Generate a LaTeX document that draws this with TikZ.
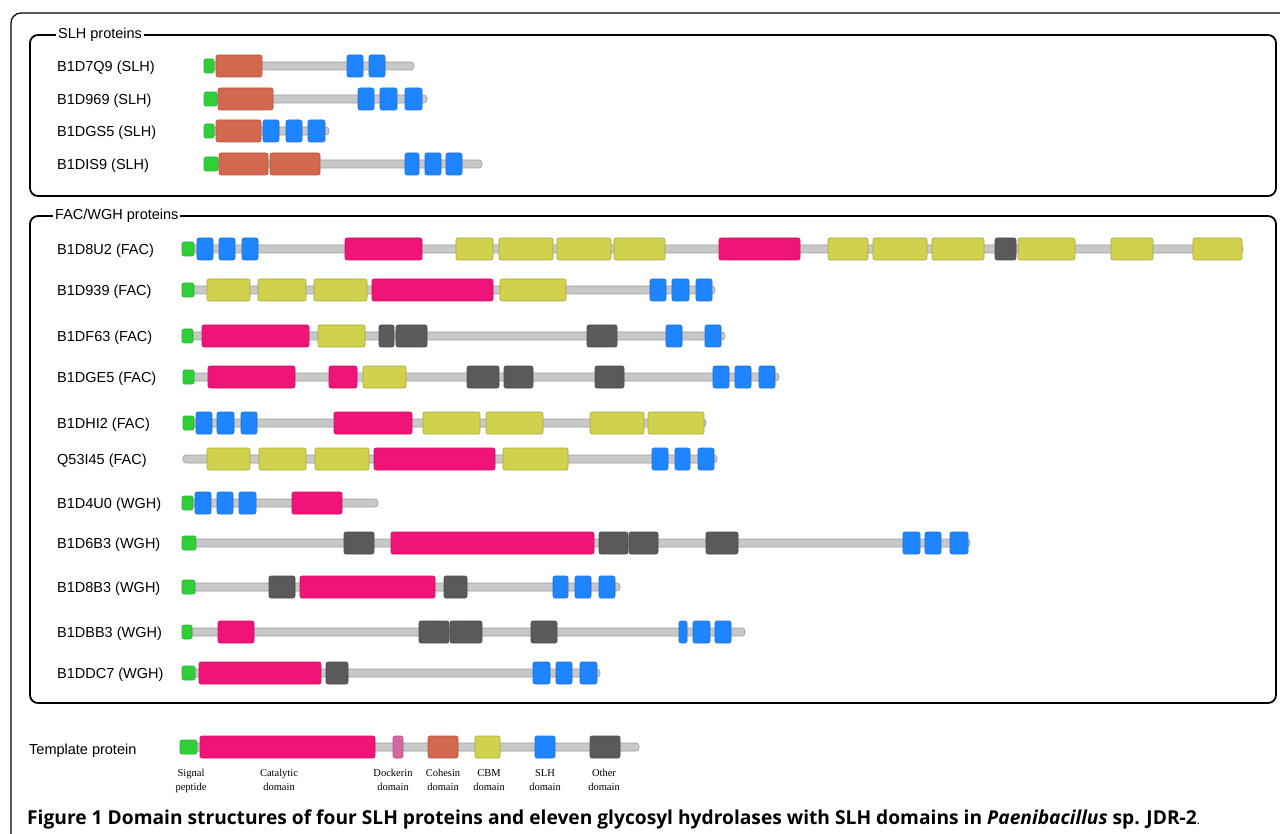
\documentclass[tikz,border=0pt]{standalone}
\usepackage{fontspec}
\setmainfont{Liberation Sans}
\newfontfamily\legfont{Liberation Serif}
\newfontfamily\capfont{Open Sans}
\definecolor{CatalPink}{HTML}{F01478}
\definecolor{CohesOrange}{HTML}{D2684E}
\definecolor{CbmYellow}{HTML}{D0D24E}
\definecolor{SlhBlue}{HTML}{1F85FF}
\definecolor{OtherGray}{HTML}{5B595B}
\definecolor{SignalGreen}{HTML}{30CF3A}
\definecolor{DockPink}{HTML}{D466A0}
\definecolor{BackGray}{HTML}{C8C8C8}
\tikzset{
  % domain styles
  dom/.style={rounded corners=2pt, line width=0.6pt},
  catal/.style={dom, fill=CatalPink, draw=CatalPink!85!black},
  cohes/.style={dom, fill=CohesOrange, draw=CohesOrange!85!black},
  cbm/.style={dom, fill=CbmYellow, draw=CbmYellow!80!black},
  slh/.style={dom, fill=SlhBlue, draw=SlhBlue!85!black},
  other/.style={dom, fill=OtherGray, draw=OtherGray!85!black},
  dock/.style={dom, fill=DockPink, draw=DockPink!85!black},
  signal/.style={dom, fill=SignalGreen, draw=SignalGreen!85!black},
  backbone/.style={rounded corners=3pt, fill=BackGray, draw=BackGray!80!black, line width=0.6pt},
  % frames and texts
  groupframe/.style={draw=black, line width=1.8pt, rounded corners=8pt},
  grouptitle/.style={fill=white, inner xsep=2pt, inner ysep=1pt, anchor=west, font=\fontsize{14.5}{17}\selectfont},
  protlabel/.style={anchor=west, inner sep=0pt, yshift=-1.5pt, font=\fontsize{14.5}{17}\selectfont},
  leglabel/.style={anchor=north, align=center, inner sep=0pt, font=\legfont\fontsize{10.5}{14}\selectfont},
  captext/.style={anchor=west, inner sep=0pt, font=\capfont\bfseries\fontsize{19.2}{21}\selectfont}
}
% row helpers: #1 = row y
\newcommand{\chain}[3]{\draw[backbone] (#2,{#1-4}) rectangle (#3,{#1+4});}
\newcommand{\sig}[3]{\draw[signal] (#2,{#1-7}) rectangle (#3,{#1+7});}
\newcommand{\dm}[4]{\draw[#1] (#3,{#2-11}) rectangle (#4,{#2+11});}

\begin{document}
\begin{tikzpicture}[x=1pt, y=-1pt]
  \useasboundingbox (0,0) rectangle (1280,834);
  \fill[white] (0,0) rectangle (1280,834);

  % outer frame
  \draw[line width=1.2pt, rounded corners=10pt] (11,840) -- (11,13) -- (1290,13);

  % group frames
  \draw[groupframe] (30,35) rectangle (1276,196);
  \node[grouptitle] (slhtitle) at (56,35) {SLH proteins};
  \draw[groupframe] (30,216) rectangle (1276,703);
  \node[grouptitle] (factitle) at (53,216) {FAC/WGH proteins};

  % protein labels
  \foreach \nm/\yy in {B1D7Q9 (SLH)/66, B1D969 (SLH)/99, B1DGS5 (SLH)/131, B1DIS9 (SLH)/164,
      B1D8U2 (FAC)/249, B1D939 (FAC)/290, B1DF63 (FAC)/336, B1DGE5 (FAC)/377,
      B1DHI2 (FAC)/423, Q53I45 (FAC)/459, B1D4U0 (WGH)/503, B1D6B3 (WGH)/543,
      B1D8B3 (WGH)/587, B1DBB3 (WGH)/632, B1DDC7 (WGH)/673}
    \node[protlabel] (lab\yy) at (57,\yy) {\nm};

  % SLH proteins
  \chain{66}{205}{414} \sig{66}{204}{214}
  \dm{cohes}{66}{216}{262}
  \foreach \a/\b in {347/363, 369/385} {\dm{slh}{66}{\a}{\b}}

  \chain{99}{206}{427} \sig{99}{204}{217}
  \dm{cohes}{99}{218}{273}
  \foreach \a/\b in {358/374, 380/397, 405/422} {\dm{slh}{99}{\a}{\b}}

  \chain{131}{206}{329} \sig{131}{204}{214}
  \dm{cohes}{131}{216}{261}
  \foreach \a/\b in {263/279, 286/302, 308/325} {\dm{slh}{131}{\a}{\b}}

  \chain{164}{206}{482} \sig{164}{204}{218}
  \foreach \a/\b in {219/268, 270/320} {\dm{cohes}{164}{\a}{\b}}
  \foreach \a/\b in {405/419, 425/441, 446/462} {\dm{slh}{164}{\a}{\b}}

  % FAC proteins
  \chain{249}{185}{1243} \sig{249}{182}{194}
  \foreach \a/\b in {197/213, 219/235, 242/258} {\dm{slh}{249}{\a}{\b}}
  \foreach \a/\b in {345/422, 719/800} {\dm{catal}{249}{\a}{\b}}
  \foreach \a/\b in {456/493, 499/553, 557/611, 614/665, 828/868, 873/927, 932/984, 1018/1075, 1111/1153, 1193/1242}
    {\dm{cbm}{249}{\a}{\b}}
  \dm{other}{249}{995}{1016}

  \chain{290}{185}{715} \sig{290}{182}{194}
  \foreach \a/\b in {207/250, 258/306, 314/367, 500/566} {\dm{cbm}{290}{\a}{\b}}
  \dm{catal}{290}{372}{493}
  \foreach \a/\b in {650/666, 672/689, 696/712} {\dm{slh}{290}{\a}{\b}}

  \chain{336}{185}{725} \sig{336}{182}{193}
  \dm{catal}{336}{202}{309}
  \dm{cbm}{336}{318}{365}
  \foreach \a/\b in {379/394, 396/427, 587/617} {\dm{other}{336}{\a}{\b}}
  \foreach \a/\b in {666/682, 705/721} {\dm{slh}{336}{\a}{\b}}

  \chain{377}{185}{779} \sig{377}{183}{194}
  \foreach \a/\b in {208/295, 329/357} {\dm{catal}{377}{\a}{\b}}
  \dm{cbm}{377}{363}{406}
  \foreach \a/\b in {467/499, 504/533, 595/624} {\dm{other}{377}{\a}{\b}}
  \foreach \a/\b in {713/729, 735/751, 759/775} {\dm{slh}{377}{\a}{\b}}

  \chain{423}{185}{706} \sig{423}{183}{194}
  \foreach \a/\b in {196/212, 217/234, 241/257} {\dm{slh}{423}{\a}{\b}}
  \dm{catal}{423}{334}{412}
  \foreach \a/\b in {423/480, 486/543, 590/644, 648/704} {\dm{cbm}{423}{\a}{\b}}

  \chain{459}{183}{717}
  \foreach \a/\b in {207/250, 259/306, 315/369, 503/568} {\dm{cbm}{459}{\a}{\b}}
  \dm{catal}{459}{374}{495}
  \foreach \a/\b in {652/668, 675/690, 698/714} {\dm{slh}{459}{\a}{\b}}

  % WGH proteins
  \chain{503}{185}{378} \sig{503}{182}{193}
  \foreach \a/\b in {195/211, 217/233, 239/256} {\dm{slh}{503}{\a}{\b}}
  \dm{catal}{503}{292}{342}

  \chain{543}{185}{970} \sig{543}{182}{196}
  \foreach \a/\b in {344/374, 599/628, 629/658, 706/738} {\dm{other}{543}{\a}{\b}}
  \dm{catal}{543}{391}{594}
  \foreach \a/\b in {903/920, 925/941, 950/968} {\dm{slh}{543}{\a}{\b}}

  \chain{587}{185}{620} \sig{587}{182}{195}
  \foreach \a/\b in {269/295, 444/467} {\dm{other}{587}{\a}{\b}}
  \dm{catal}{587}{300}{435}
  \foreach \a/\b in {553/568, 575/591, 599/615} {\dm{slh}{587}{\a}{\b}}

  \chain{632}{185}{745} \sig{632}{182}{192}
  \dm{catal}{632}{218}{254}
  \foreach \a/\b in {419/449, 450/482, 531/557} {\dm{other}{632}{\a}{\b}}
  \foreach \a/\b in {679/687, 693/710, 715/731} {\dm{slh}{632}{\a}{\b}}

  \chain{673}{185}{600} \sig{673}{182}{195}
  \dm{catal}{673}{199}{321}
  \dm{other}{673}{326}{348}
  \foreach \a/\b in {533/550, 556/572, 580/597} {\dm{slh}{673}{\a}{\b}}

  % template protein (legend)
  \node[protlabel] (templab) at (29,749) {Template protein};
  \chain{747}{185}{639} \sig{747}{180}{197}
  \dm{catal}{747}{200}{375}
  \dm{dock}{747}{393}{403}
  \dm{cohes}{747}{428}{458}
  \dm{cbm}{747}{475}{500}
  \dm{slh}{747}{535}{555}
  \dm{other}{747}{590}{620}
  \foreach \xx/\txt/\nm in {191/Signal\\peptide/signal, 279/Catalytic\\domain/catal,
      393/Dockerin\\domain/dock, 443/Cohesin\\domain/cohes, 489/CBM\\domain/cbm,
      545/SLH\\domain/slh, 604/Other\\domain/other}
    \node[leglabel] (leg-\nm) at (\xx,769) {\txt};

  % caption
  \node[captext] (caption) at (27,819) {Figure 1 Domain structures of four SLH proteins and eleven glycosyl hydrolases with SLH domains in \textit{Paenibacillus} sp. JDR-2{\mdseries\fontsize{12}{14}\selectfont .}};
\end{tikzpicture}
\end{document}
